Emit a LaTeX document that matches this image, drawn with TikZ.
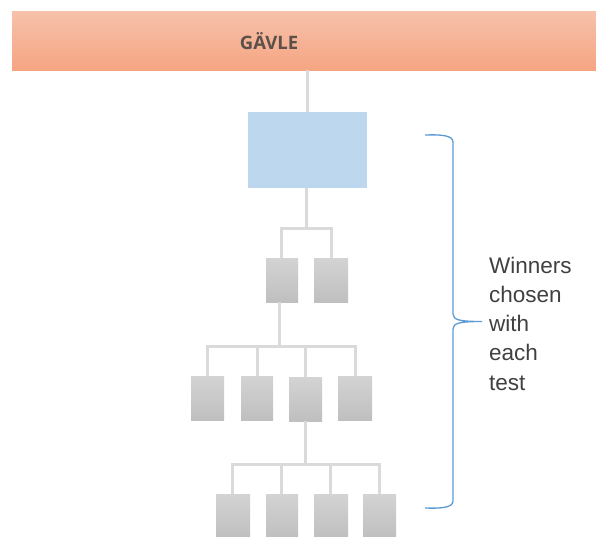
\documentclass[tikz,border=0pt]{standalone}
\usepackage{fontspec}
\setmainfont{Liberation Sans}
\newfontfamily\hdrfont{Open Sans}
\definecolor{hdrtop}{RGB}{247,193,171}
\definecolor{hdrbot}{RGB}{245,165,130}
\definecolor{hdrtext}{RGB}{92,80,75}
\definecolor{bluebox}{RGB}{189,215,238}
\definecolor{graytop}{RGB}{211,211,211}
\definecolor{graybot}{RGB}{191,191,191}
\definecolor{connc}{RGB}{218,218,218}
\definecolor{bracec}{RGB}{91,155,213}
\definecolor{txtc}{RGB}{64,64,64}
\begin{document}
\begin{tikzpicture}[x=1pt,y=-1pt,
  conn/.style={draw=connc,line width=3pt},
  graybox/.style={rectangle,inner sep=0pt,minimum width=33pt,minimum height=44pt,top color=graytop,bottom color=graybot,draw=none},
  bracestyle/.style={draw=bracec,line width=1.3pt}]
\useasboundingbox (0,0) rectangle (596,536);
% header
\node[rectangle,inner sep=0pt,anchor=north west,minimum width=600pt,minimum height=59pt,top color=hdrtop,bottom color=hdrbot,draw=none] (hdr) at (12,11) {};
\node[font=\hdrfont\bfseries\fontsize{18.5}{20}\selectfont,text=hdrtext] (gavle) at (269,41) {GÄVLE};
% blue box
\node[rectangle,inner sep=0pt,anchor=north west,minimum width=119pt,minimum height=76pt,fill=bluebox] (blue) at (248,112) {};
% level 1
\node[graybox,anchor=north west,minimum width=32pt] (b1) at (266,258) {};
\node[graybox,anchor=north west,minimum width=34pt] (b2) at (314,258) {};
% level 2
\node[graybox,anchor=north west] (c1) at (191,376) {};
\node[graybox,anchor=north west,minimum width=32pt] (c2) at (241,376) {};
\node[graybox,anchor=north west] (c3) at (289,377) {};
\node[graybox,anchor=north west,minimum width=34pt] (c4) at (338,376) {};
% level 3
\node[graybox,anchor=north west,minimum width=34pt] (d1) at (216,494) {};
\node[graybox,anchor=north west,minimum width=32pt] (d2) at (266,494) {};
\node[graybox,anchor=north west,minimum width=34pt] (d3) at (314,494) {};
\node[graybox,anchor=north west] (d4) at (363,494) {};
% connectors
\draw[conn] (hdr.south -| 307,0) -- (blue.north -| 307,0);
\draw[conn] (blue.south -| 306,0) -- (306,228);
\draw[conn] ([xshift=-1pt]b1.north) -- ++(0,-30) -| (b2.north);
\draw[conn] ([xshift=-3pt]b1.south) -- ++(0,44);
\draw[conn] (c1.north) -- ++(0,-30) -| (c4.north);
\draw[conn] (c2.north) -- ++(0,-30);
\draw[conn] (c3.north) -- ++(0,-30);
\draw[conn] (c3.south) -- ++(0,43);
\draw[conn] ([xshift=-1pt]d1.north) -- ++(0,-30) -| (d4.north);
\draw[conn] ([xshift=-1pt]d2.north) -- ++(0,-30);
\draw[conn] ([xshift=-1pt]d3.north) -- ++(0,-30);
% brace
\coordinate (btop) at (425,135);
\coordinate (bbot) at (425,508);
\coordinate (btip) at (482,321.5);
\draw[bracestyle] (btop) .. controls (440,134.5) and (453,135) .. (453,142)
  -- (453,314) .. controls (453,320) and (460,321.5) .. (btip)
  .. controls (460,321.5) and (453,323) .. (453,329)
  -- (453,501) .. controls (453,508) and (440,508.5) .. (bbot);
\node[anchor=north west,align=left,inner sep=0pt,text=txtc,font=\fontsize{22.5}{29.3}\selectfont] (lbl) at (489,256.5) {Winners\\chosen\\with\\each\\test};
\end{tikzpicture}
\end{document}
